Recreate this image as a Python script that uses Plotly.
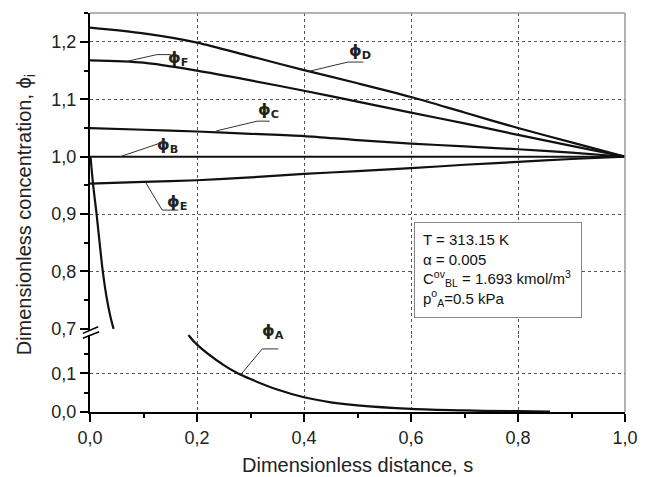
import plotly.graph_objects as go

# ---------------- data ----------------
S_GRID = [0.0, 0.1, 0.2, 0.3, 0.4, 0.5, 0.6, 0.7, 0.8, 0.9, 1.0]
PHI_D = [1.225, 1.215, 1.199, 1.175, 1.151, 1.128, 1.104, 1.077, 1.050, 1.025, 1.000]
PHI_F = [1.168, 1.164, 1.150, 1.133, 1.115, 1.096, 1.077, 1.058, 1.038, 1.019, 1.000]
PHI_C = [1.050, 1.047, 1.044, 1.040, 1.036, 1.029, 1.023, 1.018, 1.013, 1.007, 1.000]
PHI_B = [1.000, 1.000, 1.000, 1.000, 1.000, 1.000, 1.000, 1.000, 1.000, 1.000, 1.000]
PHI_E = [0.953, 0.956, 0.959, 0.964, 0.970, 0.975, 0.980, 0.986, 0.991, 0.996, 1.000]

A_UP_S = [0.001, 0.006, 0.0123, 0.018, 0.0239, 0.031, 0.038, 0.0441]
A_UP_V = [1.000, 0.950, 0.900, 0.850, 0.800, 0.755, 0.722, 0.700]
A_LO_S = [0.184, 0.2, 0.25, 0.276, 0.3, 0.35, 0.4, 0.45, 0.5, 0.6, 0.7, 0.8, 0.86]
A_LO_V = [0.199, 0.174, 0.121, 0.100, 0.085, 0.058, 0.038, 0.025, 0.017, 0.008, 0.004, 0.002, 0.001]

X_TICKS = [0.0, 0.2, 0.4, 0.6, 0.8, 1.0]
X_TICKTEXT = ["0,0", "0,2", "0,4", "0,6", "0,8", "1,0"]
X_MINOR = [0.1, 0.3, 0.5, 0.7, 0.9]
YLO_TICKS = [0.0, 0.1]
YLO_TICKTEXT = ["0,0", "0,1"]
YLO_MINOR = [0.05, 0.15]
YUP_TICKS = [0.7, 0.8, 0.9, 1.0, 1.1, 1.2]
YUP_TICKTEXT = ["0,7", "0,8", "0,9", "1,0", "1,1", "1,2"]
YUP_MINOR = [0.75, 0.85, 0.95, 1.05, 1.15, 1.25]
YUP_GRID = [0.8, 0.9, 1.0, 1.1, 1.2]

# curve labels: name, s, value, axis
LABELS = [
    ("F", 0.165, 1.172, "y2"),
    ("D", 0.504, 1.183, "y2"),
    ("C", 0.333, 1.080, "y2"),
    ("B", 0.145, 1.019, "y2"),
    ("E", 0.162, 0.921, "y2"),
    ("A", 0.342, 0.6950, "y2"),
]
# leader lines: s list, value list, axis
LEADERS = [
    ([0.068, 0.125, 0.151], [1.166, 1.178, 1.178], "y2"),
    ([0.410, 0.482, 0.511], [1.149, 1.165, 1.165], "y2"),
    ([0.236, 0.3125, 0.336], [1.045, 1.062, 1.062], "y2"),
    ([0.056, 0.132], [1.000, 1.024], "y2"),
    ([0.104, 0.135, 0.165], [0.955, 0.907, 0.907], "y2"),
    ([0.282, 0.322, 0.352], [0.097, 0.163, 0.163], "y"),
]

INFO_LINES = [
    "T = 313.15 K",
    "α = 0.005",
    "C<sup>ov</sup><sub>BL</sub> = 1.693 kmol/m<sup>3</sup>",
    "p<sup>o</sup><sub>A</sub>=0.5 kPa",
]

# ---------------- figure ----------------
FONT = "Liberation Sans, Arial, sans-serif"
LINE = dict(color="#111111", width=2.2)
fig = go.Figure()

for vals in (PHI_D, PHI_F, PHI_C, PHI_B, PHI_E):
    fig.add_trace(go.Scatter(x=S_GRID, y=vals, mode="lines", line=dict(shape="spline", smoothing=0.8, **LINE),
                             yaxis="y2", hoverinfo="skip"))
fig.add_trace(go.Scatter(x=A_UP_S, y=A_UP_V, mode="lines", line=dict(shape="spline", **LINE),
                         yaxis="y2", hoverinfo="skip"))
fig.add_trace(go.Scatter(x=A_LO_S, y=A_LO_V, mode="lines", line=dict(shape="spline", **LINE),
                         yaxis="y", hoverinfo="skip"))
for xs, ys, ax in LEADERS:
    fig.add_trace(go.Scatter(x=xs, y=ys, mode="lines", line=dict(color="#333333", width=1),
                             yaxis=ax, hoverinfo="skip"))
# dummy trace for grid overlay axis
fig.add_trace(go.Scatter(x=[], y=[], yaxis="y3", hoverinfo="skip"))

for name, s, v, ax in LABELS:
    fig.add_annotation(x=s, y=v, xref="x", yref=ax, showarrow=False,
                       xanchor="center", yanchor="middle",
                       text="<b>ϕ</b><sub><b>%s</b></sub>" % name,
                       font=dict(family="DejaVu Sans, " + FONT, size=16, color="#222"))

fig.add_annotation(x=0.606, y=0.887, xref="x", yref="y2", xanchor="left", yanchor="top",
                   showarrow=False, align="left", text="<br>".join(INFO_LINES),
                   font=dict(family=FONT, size=15, color="#111"),
                   bgcolor="white", bordercolor="#888", borderwidth=1, borderpad=8,
                   width=150)

fig.add_annotation(x=0.5, y=-0.134, xref="paper", yref="paper", showarrow=False,
                   xanchor="center", yanchor="middle",
                   text="Dimensionless distance, s", font=dict(family=FONT, size=20, color="#222"))
fig.add_annotation(x=-0.120, y=0.495, xref="paper", yref="paper", showarrow=False, textangle=-90,
                   xanchor="center", yanchor="middle",
                   text="Dimensionless concentration, ϕ<sub>i</sub>",
                   font=dict(family=FONT, size=20, color="#222"))

GRID = dict(showgrid=True, gridcolor="#555555", gridwidth=1.2, griddash="dot")
AX = dict(showline=True, linecolor="black", linewidth=2, ticks="outside", ticklen=8,
          tickwidth=1.5, tickcolor="black", zeroline=False,
          tickfont=dict(family=FONT, size=18, color="#222"))

fig.update_layout(
    width=650, height=477, margin=dict(l=90, r=16, t=13, b=65),
    plot_bgcolor="white", paper_bgcolor="white", showlegend=False,
    font=dict(family=FONT, size=18, color="#222"),
    xaxis=dict(domain=[0, 1], range=[0, 1], anchor="y", tickvals=X_TICKS, ticktext=X_TICKTEXT,
               minor=dict(tickvals=X_MINOR, ticklen=4, ticks="outside", tickcolor="black", showgrid=False),
               **GRID, **AX),
    yaxis=dict(domain=[0, 0.194], range=[0, 0.2], anchor="x", tickvals=YLO_TICKS, ticktext=YLO_TICKTEXT,
               minor=dict(tickvals=YLO_MINOR, ticklen=4, ticks="outside", tickcolor="black", showgrid=False),
               **GRID, **AX),
    yaxis2=dict(domain=[0.194, 1], range=[0.69, 1.2505], anchor="x", tickvals=YUP_TICKS,
                ticktext=YUP_TICKTEXT, showgrid=False,
                minor=dict(tickvals=YUP_MINOR, ticklen=4, ticks="outside", tickcolor="black", showgrid=False),
                **AX),
    yaxis3=dict(overlaying="y2", range=[0.69, 1.2505], anchor="x", tickvals=YUP_GRID,
                showticklabels=False, ticks="", showline=False, zeroline=False, **GRID),
)

# frame (top/right gray) and axis break marks
fig.add_shape(type="line", xref="paper", yref="paper", x0=0, x1=1, y0=1, y1=1,
              line=dict(color="#999999", width=1.5))
fig.add_shape(type="line", xref="paper", yref="paper", x0=1, x1=1, y0=0, y1=1,
              line=dict(color="#999999", width=1.5))
fig.add_shape(type="rect", xref="paper", yref="paper", x0=-0.006, x1=0.006, y0=0.193, y1=0.2043,
              fillcolor="white", line=dict(width=0))
fig.add_shape(type="line", xref="paper", yref="paper", x0=-0.0134, y0=0.1972, x1=0.0153, y1=0.2138,
              line=dict(color="black", width=1.5))
fig.add_shape(type="line", xref="paper", yref="paper", x0=-0.0134, y0=0.1847, x1=0.0171, y1=0.2013,
              line=dict(color="black", width=1.5))

fig.write_html("out.html")
